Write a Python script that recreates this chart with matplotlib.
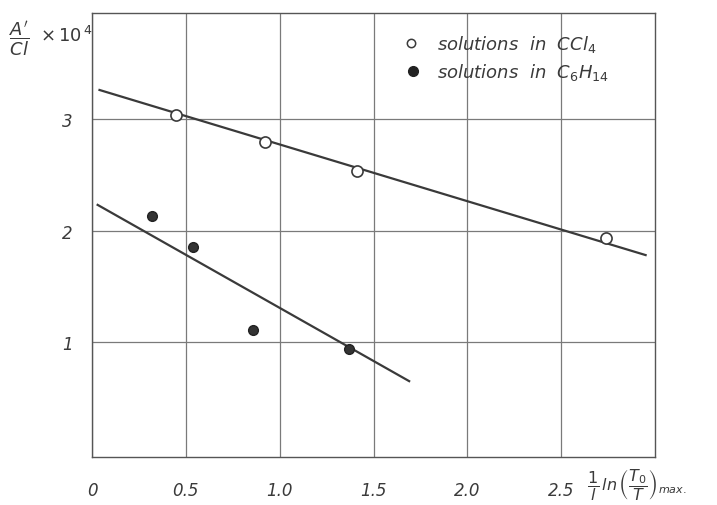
import numpy as np
import matplotlib.pyplot as plt

plt.rcParams['font.family'] = ['DejaVu Sans']
plt.rcParams['mathtext.fontset'] = 'dejavusans'

# measured points
x_ccl4 = [0.45, 0.92, 1.41, 2.74]
y_ccl4 = [3.04, 2.79, 2.53, 1.93]
x_hex = [0.32, 0.54, 0.86, 1.37]
y_hex = [2.13, 1.85, 1.11, 0.94]

# fitted straight lines (end points)
fit_ccl4_x = [0.04, 2.95]
fit_ccl4_y = [3.26, 1.78]
fit_hex_x = [0.03, 1.69]
fit_hex_y = [2.23, 0.65]

xticks = [0, 0.5, 1.0, 1.5, 2.0, 2.5]
xticklabels = ['0', '0.5', '1.0', '1.5', '2.0', '2.5']
yticks = [1, 2, 3]

ink = '#3a3a3a'
fig = plt.figure(figsize=(7.17, 5.06), dpi=100)
ax = fig.add_axes([92 / 717, 1 - 458 / 506, (655 - 92) / 717, (458 - 14) / 506])
ax.set_xlim(0, 3.0)
ax.set_ylim(-0.03, 3.95)

for s in ax.spines.values():
    s.set_color('#555555')
    s.set_linewidth(1.0)

ax.set_xticks(xticks)
ax.set_xticklabels(xticklabels)
ax.set_yticks(yticks)
ax.tick_params(axis='x', length=0, pad=17, labelsize=12, labelcolor=ink)
ax.tick_params(axis='y', length=0, pad=14, labelsize=12, labelcolor=ink)
for lab in ax.get_xticklabels() + ax.get_yticklabels():
    lab.set_fontstyle('italic')
ax.grid(True, color='#7a7a7a', linewidth=0.9)

ax.plot(fit_ccl4_x, fit_ccl4_y, color=ink, lw=1.6, zorder=2)
ax.plot(fit_hex_x, fit_hex_y, color=ink, lw=1.6, zorder=2)
ax.plot(x_ccl4, y_ccl4, 'o', ms=8, mfc='white', mec=ink, mew=1.2, zorder=3)
ax.plot(x_hex, y_hex, 'o', ms=7, mfc='#333333', mec='#222222', zorder=3)

# legend
ax.plot([1.70], [3.68], 'o', ms=6, mfc='white', mec=ink, mew=1.1)
ax.text(1.84, 3.68, r'solutions  in  CCl$_4$', fontsize=13, style='italic',
        color=ink, va='center')
ax.plot([1.71], [3.43], 'o', ms=7, mfc='#222222', mec='#222222')
ax.text(1.84, 3.43, r'solutions  in  C$_6$H$_{14}$', fontsize=13, style='italic',
        color=ink, va='center')

# axis titles
fig.text(9 / 717, 1 - 39 / 506, r"$\mathit{\dfrac{A'}{Cl}}$",
         fontsize=13, color=ink, va='center', ha='left')
fig.text(40 / 717, 1 - 36 / 506, r"$\times\,\mathit{10^{\,4}}$",
         fontsize=13, color=ink, va='center', ha='left')
fig.text(587 / 717, 1 - 485 / 506,
         r"$\mathit{\dfrac{1}{l}\,ln\,\left(\dfrac{T_0}{T}\right)_{max.}}$",
         fontsize=11.5, color=ink, va='center', ha='left')

fig.savefig('out.png', dpi=100)
